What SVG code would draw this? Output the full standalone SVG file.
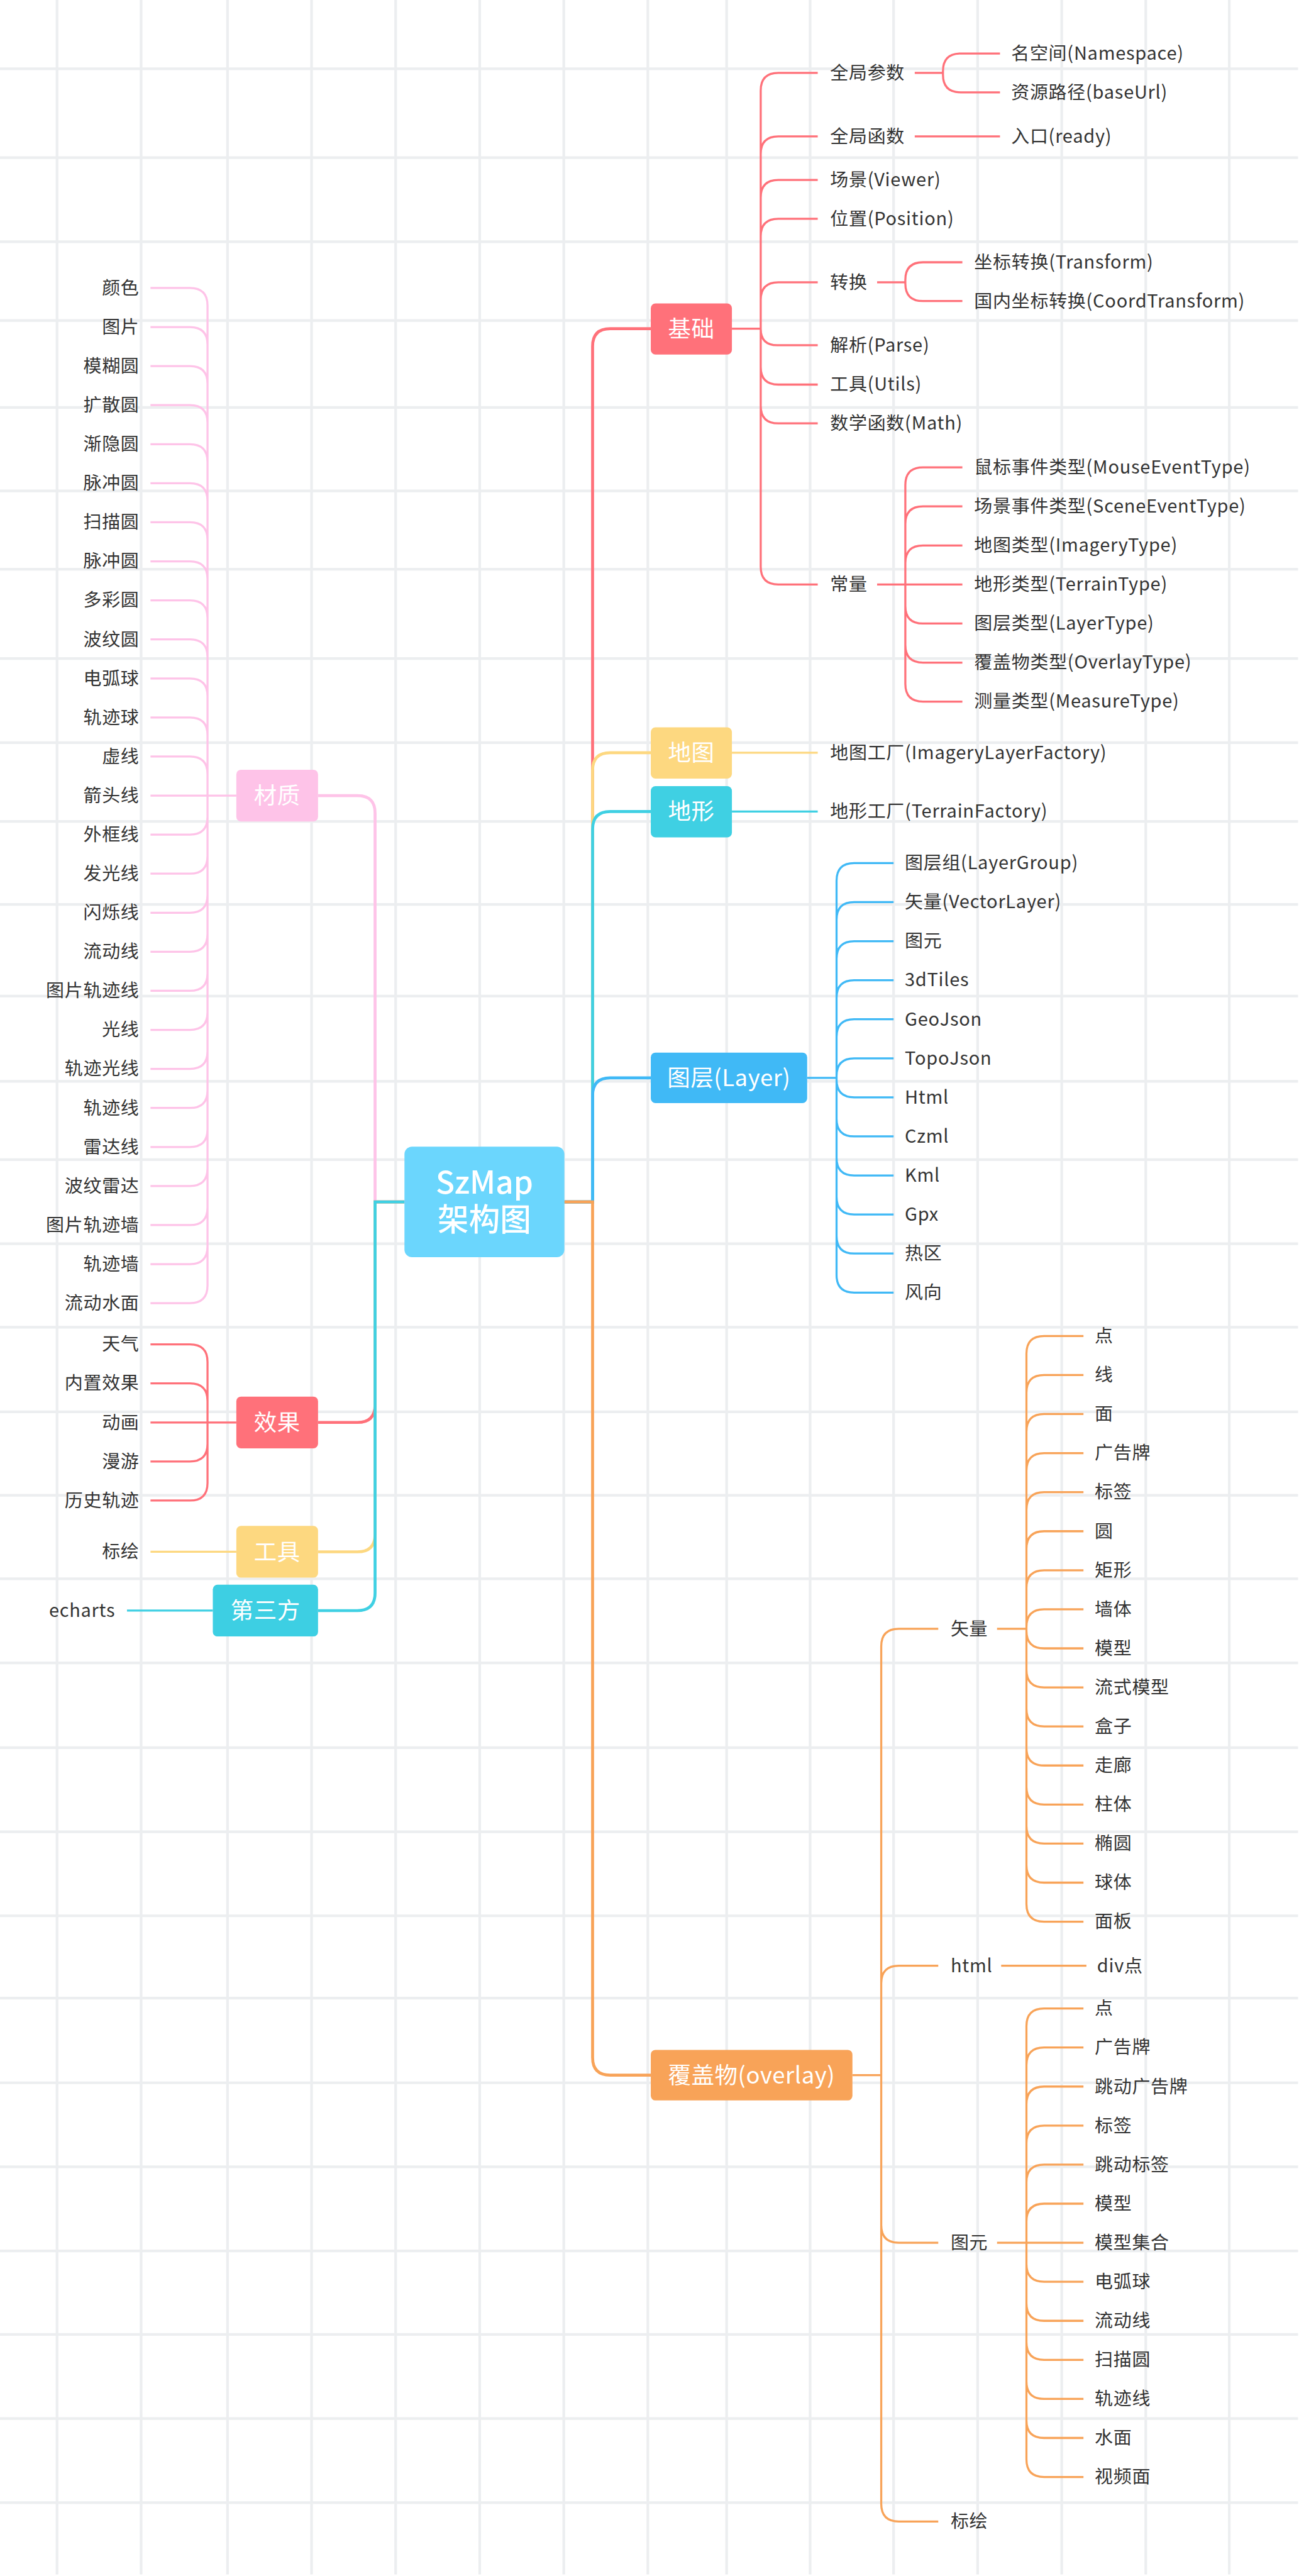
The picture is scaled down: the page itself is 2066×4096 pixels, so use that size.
<svg xmlns="http://www.w3.org/2000/svg" width="2066" height="4096" viewBox="0 0 2066 4096">
<style>
.grid{fill:none;stroke:#eceef0;stroke-width:4.5}
.l{fill:none;stroke-width:3.5}
.m{fill:none;stroke-width:5}
.red{stroke:#ff717a}.yel{stroke:#fdd880}.cyan{stroke:#3fd0e3}.blue{stroke:#40b9f6}.org{stroke:#f8a358}.pink{stroke:#fec3e8}
.t{font-family:"Noto Sans CJK SC","Noto Sans",sans-serif;font-size:31px;fill:#333333;letter-spacing:0.8px}
.e{text-anchor:end}
.nt{font-family:"Noto Sans CJK SC","Noto Sans",sans-serif;font-size:39px;fill:#ffffff;text-anchor:middle;letter-spacing:0.6px}
.rt{font-family:"Noto Sans CJK SC","Noto Sans",sans-serif;font-size:53px;font-weight:500;fill:#ffffff;text-anchor:middle}
</style>
<rect x="0" y="0" width="2066" height="4096" fill="#ffffff"/>
<g transform="scale(0.935)">
<path class="grid" d="M97 0V4378M240 0V4378M387 0V4378M530 0V4378M673 0V4378M816 0V4378M959 0V4378M1102 0V4378M1236 0V4378M1378 0V4378M1520 0V4378M1663 0V4378M1806 0V4378M1949 0V4378M2091 0V4378
M0 117H2208M0 268H2208M0 411H2208M0 545H2208M0 693H2208M0 835H2208M0 968H2208M0 1120H2208M0 1263H2208M0 1397H2208M0 1538H2208M0 1694H2208M0 1839H2208M0 1972H2208M0 2115H2208M0 2257H2208M0 2401H2208M0 2543H2208M0 2685H2208M0 2828H2208M0 2972H2208M0 3115H2208M0 3258H2208M0 3398H2208M0 3542H2208M0 3685H2208M0 3828H2208M0 3970H2208M0 4113H2208M0 4256H2208"/>

<g id="connectors">
<!-- main right -->
<path class="m red" d="M960 2044H1008V589Q1008 559 1038 559H1107"/>
<path class="m yel" d="M960 2044H1008V1310Q1008 1280 1038 1280H1107"/>
<path class="m cyan" d="M960 2044H1008V1410Q1008 1380 1038 1380H1107"/>
<path class="m blue" d="M960 2044H1008V1863Q1008 1833 1038 1833H1107"/>
<path class="m org" d="M960 2044H1008V3499Q1008 3529 1038 3529H1107"/>
<!-- main left -->
<path class="m pink" d="M688 2044H638V1383Q638 1353 608 1353H541"/>
<path class="m red" d="M688 2044H638V2389Q638 2419 608 2419H541"/>
<path class="m yel" d="M688 2044H638V2609Q638 2639 608 2639H541"/>
<path class="m cyan" d="M688 2044H638V2709Q638 2739 608 2739H541"/>
<!-- 基础 -->
<path class="l red" d="M1245 559H1294
M1294 559V154Q1294 124 1324 124H1391
M1294 559V262Q1294 232 1324 232H1391
M1294 559V336Q1294 306 1324 306H1391
M1294 559V402Q1294 372 1324 372H1391
M1294 559V510Q1294 480 1324 480H1391
M1294 559Q1294 587 1322 587H1391
M1294 559V624Q1294 654 1324 654H1391
M1294 559V690Q1294 720 1324 720H1391
M1294 559V964Q1294 994 1324 994H1391
M1556 124H1604M1604 124V121Q1604 91 1634 91H1701M1604 124V127Q1604 157 1634 157H1701
M1556 232H1701
M1492 480H1540M1540 480V476Q1540 446 1570 446H1637M1540 480V482Q1540 512 1570 512H1637
M1492 994H1540
M1540 994V824.8Q1540 794.8 1570 794.8H1637
M1540 994V891.2Q1540 861.2 1570 861.2H1637
M1540 994V957.6Q1540 927.6 1570 927.6H1637
M1540 994H1637
M1540 994V1030.4Q1540 1060.4 1570 1060.4H1637
M1540 994V1096.8Q1540 1126.8 1570 1126.8H1637
M1540 994V1163.2Q1540 1193.2 1570 1193.2H1637"/>
<!-- 地图 地形 -->
<path class="l yel" d="M1245 1280H1391"/>
<path class="l cyan" d="M1245 1380H1391"/>
<!-- 图层 -->
<path class="l blue" d="M1373 1833H1423
M1423 1833V1497.8Q1423 1467.8 1453 1467.8H1520
M1423 1833V1564.2Q1423 1534.2 1453 1534.2H1520
M1423 1833V1630.6Q1423 1600.6 1453 1600.6H1520
M1423 1833V1697Q1423 1667 1453 1667H1520
M1423 1833V1763.4Q1423 1733.4 1453 1733.4H1520
M1423 1833V1829.8Q1423 1799.8 1453 1799.8H1520
M1423 1833V1836.2Q1423 1866.2 1453 1866.2H1520
M1423 1833V1902.6Q1423 1932.6 1453 1932.6H1520
M1423 1833V1969Q1423 1999 1453 1999H1520
M1423 1833V2035.4Q1423 2065.4 1453 2065.4H1520
M1423 1833V2101.8Q1423 2131.8 1453 2131.8H1520
M1423 1833V2168.2Q1423 2198.2 1453 2198.2H1520"/>
<!-- 覆盖物 -->
<path class="l org" d="M1450 3529H1499
M1499 3529V2800Q1499 2770 1529 2770H1596
M1499 3529V3373Q1499 3343 1529 3343H1596
M1499 3529V3784Q1499 3814 1529 3814H1596
M1499 3529V4258Q1499 4288 1529 4288H1596
M1696 2770H1746
M1746 2770V2302Q1746 2272 1776 2272H1843
M1746 2770V2368.4Q1746 2338.4 1776 2338.4H1843
M1746 2770V2434.8Q1746 2404.8 1776 2404.8H1843
M1746 2770V2501.2Q1746 2471.2 1776 2471.2H1843
M1746 2770V2567.6Q1746 2537.6 1776 2537.6H1843
M1746 2770V2634Q1746 2604 1776 2604H1843
M1746 2770V2700.4Q1746 2670.4 1776 2670.4H1843
M1746 2770V2766.8Q1746 2736.8 1776 2736.8H1843
M1746 2770V2773.2Q1746 2803.2 1776 2803.2H1843
M1746 2770V2839.6Q1746 2869.6 1776 2869.6H1843
M1746 2770V2906Q1746 2936 1776 2936H1843
M1746 2770V2972.4Q1746 3002.4 1776 3002.4H1843
M1746 2770V3038.8Q1746 3068.8 1776 3068.8H1843
M1746 2770V3105.2Q1746 3135.2 1776 3135.2H1843
M1746 2770V3171.6Q1746 3201.6 1776 3201.6H1843
M1746 2770V3238Q1746 3268 1776 3268H1843
M1703 3343H1848
M1696 3814H1746
M1746 3814V3445.6Q1746 3415.6 1776 3415.6H1843
M1746 3814V3512Q1746 3482 1776 3482H1843
M1746 3814V3578.4Q1746 3548.4 1776 3548.4H1843
M1746 3814V3644.8Q1746 3614.8 1776 3614.8H1843
M1746 3814V3711.2Q1746 3681.2 1776 3681.2H1843
M1746 3814V3777.6Q1746 3747.6 1776 3747.6H1843
M1746 3814H1843
M1746 3814V3850.4Q1746 3880.4 1776 3880.4H1843
M1746 3814V3916.8Q1746 3946.8 1776 3946.8H1843
M1746 3814V3983.2Q1746 4013.2 1776 4013.2H1843
M1746 3814V4049.6Q1746 4079.6 1776 4079.6H1843
M1746 3814V4116Q1746 4146 1776 4146H1843
M1746 3814V4182.4Q1746 4212.4 1776 4212.4H1843"/>
<!-- 材质 -->
<path class="l pink" d="M402 1353H353
M353 1353V519.8Q353 489.8 323 489.8H256
M353 1353V586.2Q353 556.2 323 556.2H256
M353 1353V652.6Q353 622.6 323 622.6H256
M353 1353V719Q353 689 323 689H256
M353 1353V785.4Q353 755.4 323 755.4H256
M353 1353V851.8Q353 821.8 323 821.8H256
M353 1353V918.2Q353 888.2 323 888.2H256
M353 1353V984.6Q353 954.6 323 954.6H256
M353 1353V1051Q353 1021 323 1021H256
M353 1353V1117.4Q353 1087.4 323 1087.4H256
M353 1353V1183.8Q353 1153.8 323 1153.8H256
M353 1353V1250.2Q353 1220.2 323 1220.2H256
M353 1353V1316.6Q353 1286.6 323 1286.6H256
M353 1353H256
M353 1353V1389.4Q353 1419.4 323 1419.4H256
M353 1353V1455.8Q353 1485.8 323 1485.8H256
M353 1353V1522.2Q353 1552.2 323 1552.2H256
M353 1353V1588.6Q353 1618.6 323 1618.6H256
M353 1353V1655Q353 1685 323 1685H256
M353 1353V1721.4Q353 1751.4 323 1751.4H256
M353 1353V1787.8Q353 1817.8 323 1817.8H256
M353 1353V1854.2Q353 1884.2 323 1884.2H256
M353 1353V1920.6Q353 1950.6 323 1950.6H256
M353 1353V1987Q353 2017 323 2017H256
M353 1353V2053.4Q353 2083.4 323 2083.4H256
M353 1353V2119.8Q353 2149.8 323 2149.8H256
M353 1353V2186.2Q353 2216.2 323 2216.2H256"/>
<!-- 效果 -->
<path class="l red" d="M402 2419H353
M353 2419V2316.2Q353 2286.2 323 2286.2H256
M353 2419V2382.6Q353 2352.6 323 2352.6H256
M353 2419H256
M353 2419V2455.4Q353 2485.4 323 2485.4H256
M353 2419V2521.8Q353 2551.8 323 2551.8H256"/>
<path class="l yel" d="M402 2639H256"/>
<path class="l cyan" d="M362 2739H216"/>
</g>

<g id="root"><rect x="688" y="1950" width="272" height="188" rx="13" fill="#6bd6fd"/><text class="rt" x="824" y="2030">SzMap</text><text class="rt" x="824" y="2093">架构图</text></g>

<g id="n-jichu"><rect x="1107" y="516" width="138" height="87" rx="8" fill="#ff717a"/><text class="nt" x="1176" y="573">基础</text></g>
<g id="n-ditu"><rect x="1107" y="1237" width="138" height="87" rx="8" fill="#fdd880"/><text class="nt" x="1176" y="1294">地图</text></g>
<g id="n-dixing"><rect x="1107" y="1337" width="138" height="87" rx="8" fill="#3fd0e3"/><text class="nt" x="1176" y="1394">地形</text></g>
<g id="n-layer"><rect x="1107" y="1790" width="266" height="86" rx="8" fill="#40b9f6"/><text class="nt" x="1240" y="1847">图层(Layer)</text></g>
<g id="n-overlay"><rect x="1107" y="3486" width="343" height="86" rx="8" fill="#f8a358"/><text class="nt" x="1278.5" y="3543">覆盖物(overlay)</text></g>
<g id="n-caizhi"><rect x="402" y="1309" width="139" height="88" rx="8" fill="#fec3e8"/><text class="nt" x="471.5" y="1367">材质</text></g>
<g id="n-xiaoguo"><rect x="402" y="2375" width="139" height="88" rx="8" fill="#ff717a"/><text class="nt" x="471.5" y="2433">效果</text></g>
<g id="n-gongju"><rect x="402" y="2595" width="139" height="88" rx="8" fill="#fdd880"/><text class="nt" x="471.5" y="2653">工具</text></g>
<g id="n-disanfang"><rect x="362" y="2695" width="179" height="88" rx="8" fill="#3dcfe3"/><text class="nt" x="451.5" y="2753">第三方</text></g>

<g id="leaves-jichu" class="t">
<g id="l-qjcs"><text x="1412" y="134.5">全局参数</text></g>
<g id="l-qjhs"><text x="1412" y="242.5">全局函数</text></g>
<g id="l-cj"><text x="1412" y="316.5">场景(Viewer)</text></g>
<g id="l-wz"><text x="1412" y="382.5">位置(Position)</text></g>
<g id="l-zh"><text x="1412" y="490.5">转换</text></g>
<g id="l-jx"><text x="1412" y="597.5">解析(Parse)</text></g>
<g id="l-gj"><text x="1412" y="664.5">工具(Utils)</text></g>
<g id="l-sxhs"><text x="1412" y="730.5">数学函数(Math)</text></g>
<g id="l-cl"><text x="1412" y="1004.5">常量</text></g>
<g id="l-mkj"><text x="1720" y="101.5">名空间(Namespace)</text></g>
<g id="l-zylj"><text x="1720" y="167.5">资源路径(baseUrl)</text></g>
<g id="l-rk"><text x="1720" y="242.5">入口(ready)</text></g>
<g id="l-zbzh"><text x="1657" y="456.5">坐标转换(Transform)</text></g>
<g id="l-gnzbzh"><text x="1657" y="522.5">国内坐标转换(CoordTransform)</text></g>
<g id="l-c1"><text x="1657" y="805.3">鼠标事件类型(MouseEventType)</text></g>
<g id="l-c2"><text x="1657" y="871.7">场景事件类型(SceneEventType)</text></g>
<g id="l-c3"><text x="1657" y="938.1">地图类型(ImageryType)</text></g>
<g id="l-c4"><text x="1657" y="1004.5">地形类型(TerrainType)</text></g>
<g id="l-c5"><text x="1657" y="1070.9">图层类型(LayerType)</text></g>
<g id="l-c6"><text x="1657" y="1137.3">覆盖物类型(OverlayType)</text></g>
<g id="l-c7"><text x="1657" y="1203.7">测量类型(MeasureType)</text></g>
<g id="l-dtgc"><text x="1412" y="1290.5">地图工厂(ImageryLayerFactory)</text></g>
<g id="l-dxgc"><text x="1412" y="1390.5">地形工厂(TerrainFactory)</text></g>
</g>

<g id="leaves-layer" class="t">
<g id="l-y0"><text x="1539" y="1478.3">图层组(LayerGroup)</text></g>
<g id="l-y1"><text x="1539" y="1544.7">矢量(VectorLayer)</text></g>
<g id="l-y2"><text x="1539" y="1611.1">图元</text></g>
<g id="l-y3"><text x="1539" y="1677.5">3dTiles</text></g>
<g id="l-y4"><text x="1539" y="1743.9">GeoJson</text></g>
<g id="l-y5"><text x="1539" y="1810.3">TopoJson</text></g>
<g id="l-y6"><text x="1539" y="1876.7">Html</text></g>
<g id="l-y7"><text x="1539" y="1943.1">Czml</text></g>
<g id="l-y8"><text x="1539" y="2009.5">Kml</text></g>
<g id="l-y9"><text x="1539" y="2075.9">Gpx</text></g>
<g id="l-y10"><text x="1539" y="2142.3">热区</text></g>
<g id="l-y11"><text x="1539" y="2208.7">风向</text></g>
</g>

<g id="leaves-overlay" class="t">
<g id="l-o-sl"><text x="1617" y="2780.5">矢量</text></g>
<g id="l-o-html"><text x="1617" y="3353.5">html</text></g>
<g id="l-o-ty"><text x="1617" y="3824.5">图元</text></g>
<g id="l-o-bh"><text x="1617" y="4298.5">标绘</text></g>
<g id="l-o-div"><text x="1866" y="3353.5">div点</text></g>
<g id="l-v0"><text x="1862" y="2282.5">点</text></g>
<g id="l-v1"><text x="1862" y="2348.9">线</text></g>
<g id="l-v2"><text x="1862" y="2415.3">面</text></g>
<g id="l-v3"><text x="1862" y="2481.7">广告牌</text></g>
<g id="l-v4"><text x="1862" y="2548.1">标签</text></g>
<g id="l-v5"><text x="1862" y="2614.5">圆</text></g>
<g id="l-v6"><text x="1862" y="2680.9">矩形</text></g>
<g id="l-v7"><text x="1862" y="2747.3">墙体</text></g>
<g id="l-v8"><text x="1862" y="2813.7">模型</text></g>
<g id="l-v9"><text x="1862" y="2880.1">流式模型</text></g>
<g id="l-v10"><text x="1862" y="2946.5">盒子</text></g>
<g id="l-v11"><text x="1862" y="3012.9">走廊</text></g>
<g id="l-v12"><text x="1862" y="3079.3">柱体</text></g>
<g id="l-v13"><text x="1862" y="3145.7">椭圆</text></g>
<g id="l-v14"><text x="1862" y="3212.1">球体</text></g>
<g id="l-v15"><text x="1862" y="3278.5">面板</text></g>
<g id="l-p0"><text x="1862" y="3426.1">点</text></g>
<g id="l-p1"><text x="1862" y="3492.5">广告牌</text></g>
<g id="l-p2"><text x="1862" y="3558.9">跳动广告牌</text></g>
<g id="l-p3"><text x="1862" y="3625.3">标签</text></g>
<g id="l-p4"><text x="1862" y="3691.7">跳动标签</text></g>
<g id="l-p5"><text x="1862" y="3758.1">模型</text></g>
<g id="l-p6"><text x="1862" y="3824.5">模型集合</text></g>
<g id="l-p7"><text x="1862" y="3890.9">电弧球</text></g>
<g id="l-p8"><text x="1862" y="3957.3">流动线</text></g>
<g id="l-p9"><text x="1862" y="4023.7">扫描圆</text></g>
<g id="l-p10"><text x="1862" y="4090.1">轨迹线</text></g>
<g id="l-p11"><text x="1862" y="4156.5">水面</text></g>
<g id="l-p12"><text x="1862" y="4222.9">视频面</text></g>
</g>

<g id="leaves-left" class="t e">
<g id="l-m0"><text x="237" y="500.3">颜色</text></g>
<g id="l-m1"><text x="237" y="566.7">图片</text></g>
<g id="l-m2"><text x="237" y="633.1">模糊圆</text></g>
<g id="l-m3"><text x="237" y="699.5">扩散圆</text></g>
<g id="l-m4"><text x="237" y="765.9">渐隐圆</text></g>
<g id="l-m5"><text x="237" y="832.3">脉冲圆</text></g>
<g id="l-m6"><text x="237" y="898.7">扫描圆</text></g>
<g id="l-m7"><text x="237" y="965.1">脉冲圆</text></g>
<g id="l-m8"><text x="237" y="1031.5">多彩圆</text></g>
<g id="l-m9"><text x="237" y="1097.9">波纹圆</text></g>
<g id="l-m10"><text x="237" y="1164.3">电弧球</text></g>
<g id="l-m11"><text x="237" y="1230.7">轨迹球</text></g>
<g id="l-m12"><text x="237" y="1297.1">虚线</text></g>
<g id="l-m13"><text x="237" y="1363.5">箭头线</text></g>
<g id="l-m14"><text x="237" y="1429.9">外框线</text></g>
<g id="l-m15"><text x="237" y="1496.3">发光线</text></g>
<g id="l-m16"><text x="237" y="1562.7">闪烁线</text></g>
<g id="l-m17"><text x="237" y="1629.1">流动线</text></g>
<g id="l-m18"><text x="237" y="1695.5">图片轨迹线</text></g>
<g id="l-m19"><text x="237" y="1761.9">光线</text></g>
<g id="l-m20"><text x="237" y="1828.3">轨迹光线</text></g>
<g id="l-m21"><text x="237" y="1894.7">轨迹线</text></g>
<g id="l-m22"><text x="237" y="1961.1">雷达线</text></g>
<g id="l-m23"><text x="237" y="2027.5">波纹雷达</text></g>
<g id="l-m24"><text x="237" y="2093.9">图片轨迹墙</text></g>
<g id="l-m25"><text x="237" y="2160.3">轨迹墙</text></g>
<g id="l-m26"><text x="237" y="2226.7">流动水面</text></g>
<g id="l-x0"><text x="237" y="2296.7">天气</text></g>
<g id="l-x1"><text x="237" y="2363.1">内置效果</text></g>
<g id="l-x2"><text x="237" y="2429.5">动画</text></g>
<g id="l-x3"><text x="237" y="2495.9">漫游</text></g>
<g id="l-x4"><text x="237" y="2562.3">历史轨迹</text></g>
<g id="l-g0"><text x="237" y="2649.5">标绘</text></g>
<g id="l-d0"><text x="196" y="2749.5">echarts</text></g>
</g>
</g>
</svg>
